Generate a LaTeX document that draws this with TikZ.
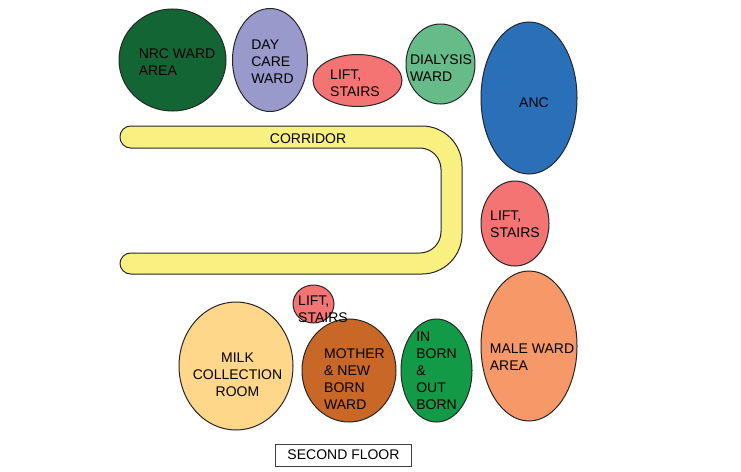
\documentclass[tikz,border=0pt]{standalone}
\usepackage{fontspec}
\setmainfont{Liberation Sans}
\usetikzlibrary{shapes.geometric}
\definecolor{nrcgreen}{HTML}{146534}
\definecolor{daypurple}{HTML}{9999CC}
\definecolor{liftred}{HTML}{F47373}
\definecolor{dialysisgreen}{HTML}{66BB88}
\definecolor{ancblue}{HTML}{2970B8}
\definecolor{maleorange}{HTML}{F79868}
\definecolor{inborngreen}{HTML}{129A47}
\definecolor{motherbrown}{HTML}{C96826}
\definecolor{milkyellow}{HTML}{FFD78A}
\definecolor{corridoryellow}{HTML}{F8F080}
\tikzset{
  room/.style={
    ellipse,
    draw=black!85,
    line width=0.75pt,
    inner sep=0pt
  },
  room label/.style={
    font=\fontsize{10.5}{12.75}\selectfont,
    inner sep=0pt,
    yshift=-0.6pt,
    align=left
  },
  corridor/.style={
    draw=black!85,
    line width=0.75pt,
    fill=corridoryellow
  },
  floor box/.style={
    draw=black!75,
    line width=0.75pt,
    minimum width=102pt,
    minimum height=16.5pt,
    inner sep=0pt,
    font=\fontsize{10.5}{12.75}\selectfont
  }
}

\begin{document}
\begin{tikzpicture}[x=0.75pt, y=-0.75pt]
    \useasboundingbox (0,0) rectangle (741,471);

    % 1. corridor
    \draw[corridor] (200,126) [rounded corners=30pt] -- (462,126) -- (462,274)
      [rounded corners=8pt] -- (120,274) -- (120,253) [rounded corners=16pt] -- (441,253) -- (441,148)
      [rounded corners=8pt] -- (120,148) -- (120,126) -- cycle;
    \node[room label] (corridorlabel) at (308,138) {CORRIDOR};

    % 2. top row
    \node[room, fill=nrcgreen, minimum width=80.25pt, minimum height=76.5pt] (nrc) at (172.5,60) {};
    \node[room label] (nrclabel) at (177,61) {NRC WARD\\AREA};
    \node[room, fill=daypurple, minimum width=56.25pt, minimum height=77.25pt] (day) at (270,60) {};
    \node[room label] (daylabel) at (272.5,61) {DAY\\CARE\\WARD};
    \node[room, fill=liftred, minimum width=66.75pt, minimum height=39pt] (lifta) at (357.5,80.5) {};
    \node[room label] (liftalabel) at (355,82.5) {LIFT,\\STAIRS};
    \node[room, fill=dialysisgreen, minimum width=51.75pt, minimum height=60pt] (dialysis) at (440.5,64) {};
    \node[room label] (dialysislabel) at (441,67.5) {DIALYSIS\\WARD};

    % 3. right column
    \node[room, fill=ancblue, minimum width=72pt, minimum height=114pt] (anc) at (529,98) {};
    \node[room label] (anclabel) at (534,102) {ANC};
    \node[room, fill=liftred, minimum width=51pt, minimum height=63.75pt] (liftb) at (515,223.5) {};
    \node[room label] (liftblabel) at (515,223) {LIFT,\\STAIRS};
    \node[room, fill=maleorange, minimum width=72pt, minimum height=112.5pt] (male) at (529,346) {};
    \node[room label] (malelabel) at (532,356.5) {MALE WARD\\AREA};

    % 4. bottom row
    \node[room, fill=milkyellow, minimum width=85.5pt, minimum height=96pt] (milk) at (236,366) {};
    \node[room label, align=center] (milklabel) at (237.5,373.5) {MILK\\COLLECTION\\ROOM};
    \node[room, fill=liftred, minimum width=30.75pt, minimum height=28.5pt] (liftc) at (313.5,304) {};
    \node[room, fill=motherbrown, minimum width=70.5pt, minimum height=77.25pt] (mother) at (349,370.5) {};
    \node[room label] (liftclabel) at (323,308) {LIFT,\\STAIRS};
    \node[room label] (motherlabel) at (354.5,378) {MOTHER\\\& NEW\\BORN\\WARD};
    \node[room, fill=inborngreen, minimum width=53.25pt, minimum height=77.25pt] (inborn) at (436.5,370.5) {};
    \node[room label] (inbornlabel) at (436.5,370) {IN\\BORN\\\&\\OUT\\BORN};

    % 5. title
    \node[floor box] (title) at (343.5,455) {SECOND FLOOR};
\end{tikzpicture}
\end{document}
